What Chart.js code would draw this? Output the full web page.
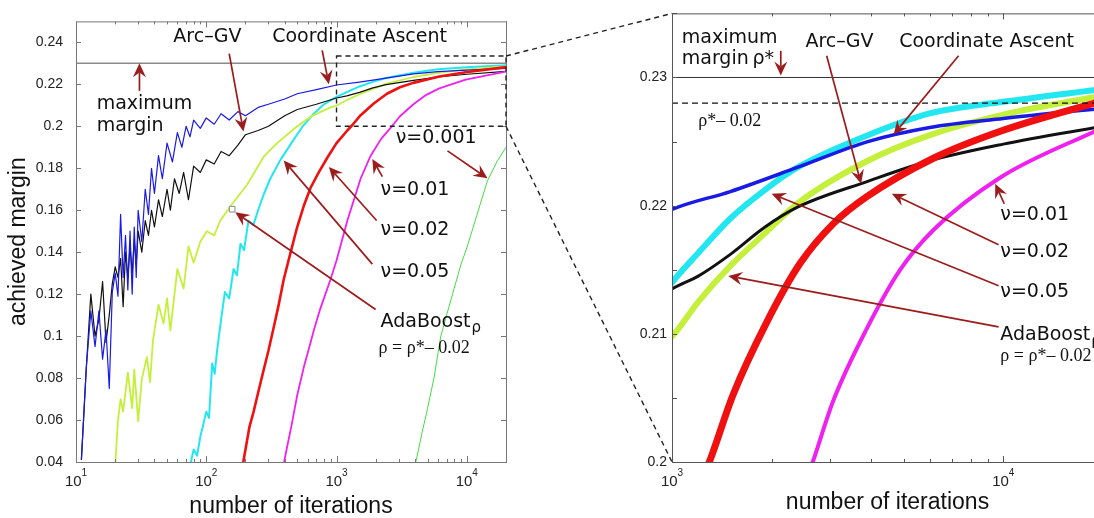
<!DOCTYPE html>
<html lang="en">
<head>
<meta charset="UTF-8">
<title>Achieved margin vs. number of iterations</title>
<script src="https://cdn.jsdelivr.net/npm/chart.js"></script>
<style>
  html, body { margin: 0; padding: 0; background: #fff; overflow: hidden; }
  #wrap { position: relative; width: 1094px; height: 518px; overflow: hidden; }
  #leftChart { position: absolute; left: 0; top: 0; }
  #rightChart { position: absolute; left: 600px; top: 0; }
  #overlay { position: absolute; left: 0; top: 0; pointer-events: none; }
</style>
</head>
<body>
<div id="wrap">
  <canvas id="leftChart" width="530" height="518"></canvas>
  <canvas id="rightChart" width="520" height="518"></canvas>
  <canvas id="overlay" width="1094" height="518"></canvas>
</div>
<script>
// ---- data (iterations / achieved margin) ----
const caIter = [11,12,13,14,15,16,17,18,19,20,21,22,23,24,25,26,27,28,29,30,32,34,36,38,40,43,46,50,55,60,65,70,75,80,90,100,115,130,150,175,200,250,300,400,500,700,1000,1500,2400,3900,6000,10000,20000];
const caMargin = [0.041,0.085,0.112,0.095,0.112,0.089,0.103,0.075,0.121,0.130,0.119,0.158,0.128,0.148,0.122,0.150,0.120,0.152,0.128,0.160,0.145,0.170,0.158,0.180,0.168,0.186,0.175,0.192,0.183,0.197,0.190,0.200,0.195,0.203,0.199,0.204,0.201,0.206,0.203,0.207,0.205,0.209,0.2105,0.213,0.2155,0.2175,0.2197,0.2211,0.2230,0.2250,0.2261,0.2268,0.2276];

const arcIter = [11,12,13,14,15,16,17,18,19,20,21,22,23,24,25,26,27,28,29,30,32,34,36,38,40,43,46,50,53,57,62,67,73,80,90,100,115,130,150,175,200,250,300,400,500,700,1000,1200,1500,1900,2400,3900,6000,10000,20000];
const arcMargin = [0.041,0.085,0.120,0.100,0.108,0.126,0.097,0.110,0.125,0.133,0.128,0.137,0.114,0.140,0.128,0.143,0.130,0.146,0.134,0.150,0.140,0.155,0.148,0.160,0.152,0.165,0.157,0.170,0.160,0.175,0.168,0.178,0.165,0.181,0.178,0.184,0.182,0.188,0.186,0.191,0.196,0.198,0.200,0.205,0.208,0.2105,0.2135,0.2145,0.2162,0.2183,0.2199,0.2219,0.2235,0.2248,0.2262];

const nu05Iter = [75,80,85,90,95,100,105,111,116,121,130,139,150,162,172,183,195,211,230,250,276,310,371,450,550,668,800,1000,1200,1500,1900,2400,3900,6000,10000,20000];
const nu05Margin = [0.038,0.046,0.043,0.052,0.058,0.064,0.061,0.087,0.082,0.093,0.108,0.121,0.118,0.132,0.129,0.144,0.141,0.155,0.153,0.160,0.1675,0.175,0.184,0.192,0.200,0.206,0.2105,0.2140,0.2163,0.2190,0.2212,0.2230,0.2255,0.2272,0.2281,0.2291];

const adaIter = [20,21,22,23,25,27,28,30,32,35,37,39,43,47,50,53,60,67,73,80,90,101,115,128,158,205,276,350,499,650,899,1000,1200,1500,1900,2400,3900,6000,10000,20000];
const adaMargin = [0.038,0.060,0.070,0.064,0.0826,0.0656,0.084,0.0594,0.0795,0.090,0.078,0.098,0.115,0.106,0.118,0.1026,0.132,0.1227,0.1428,0.135,0.145,0.150,0.148,0.155,0.163,0.172,0.1855,0.192,0.200,0.205,0.209,0.2098,0.2125,0.2153,0.2178,0.2202,0.2235,0.2255,0.2271,0.2286];

const nu02Iter = [190,200,215,231,250,276,300,329,360,393,443,499,560,631,730,849,1000,1210,1318,1532,1931,2437,3070,3873,6152,9800,20000];
const nu02Margin = [0.038,0.046,0.057,0.064,0.073,0.084,0.093,0.104,0.115,0.127,0.1397,0.152,0.162,0.1706,0.178,0.185,0.192,0.198,0.2005,0.2053,0.2109,0.2155,0.2186,0.2207,0.2237,0.2258,0.2282];

const nu01Iter = [390,420,450,499,560,620,668,750,899,1000,1210,1530,1828,2200,2660,3070,3873,4886,6152,9800,20000];
const nu01Margin = [0.038,0.048,0.057,0.0718,0.085,0.095,0.1026,0.113,0.127,0.136,0.155,0.175,0.186,0.194,0.2000,0.2048,0.2104,0.2150,0.2181,0.2222,0.2261];

const nu001Iter = [4000,4500,5000,5600,6300,7000,8000,9000,10000,12000,14400,17000,20000];
const nu001Margin = [0.038,0.053,0.0656,0.080,0.0996,0.110,0.1227,0.134,0.142,0.158,0.174,0.183,0.190];

const maxIter = [10, 20000];
const maxMargin = [0.23, 0.23];
const targetIter = [1000, 20000];
const targetMargin = [0.228, 0.228];
const markIter = [158];
const markMargin = [0.1605];

// zoomed region shown in the right panel
const zoomIter = [1000, 20000];
const zoomMargin = [0.2, 0.2335];

// axes
const leftYTicks = [0.04,0.06,0.08,0.1,0.12,0.14,0.16,0.18,0.2,0.22,0.24];
const leftYLabels = ['0.04','0.06','0.08','0.1','0.12','0.14','0.16','0.18','0.2','0.22','0.24'];
const rightYTicks = [0.2,0.205,0.21,0.215,0.22,0.225,0.23,0.235];
const rightYLabels = ['0.2','','0.21','','0.22','','0.23',''];
const xMajor = [10, 100, 1000, 10000];
const xExp = ['1', '2', '3', '4'];

const ANN = '#9b1c1c';
const NOTE = '19px "DejaVu Sans"';
const SUB = '15px "DejaVu Sans"';
const SERIF = '18px "Liberation Serif"';

function pts(xs, ys) { return xs.map((x, i) => ({ x: x, y: ys[i] })); }

function drawArrow(ctx, x1, y1, x2, y2) {
  const len = 14, half = 6.5;
  const a = Math.atan2(y2 - y1, x2 - x1);
  const c = Math.cos(a), s = Math.sin(a);
  const nx = x2 - 0.65 * len * c, ny = y2 - 0.65 * len * s;
  ctx.beginPath(); ctx.moveTo(x1, y1); ctx.lineTo(nx, ny); ctx.stroke();
  ctx.beginPath();
  ctx.moveTo(x2, y2);
  ctx.lineTo(x2 - len * c - half * s, y2 - len * s + half * c);
  ctx.lineTo(nx, ny);
  ctx.lineTo(x2 - len * c + half * s, y2 - len * s - half * c);
  ctx.closePath(); ctx.fill();
}

// matlab style box with inward ticks, superscript x labels, zoom box
const framePlugin = {
  id: 'frame',
  afterDatasetsDraw(chart, args, o) {
    const { ctx, chartArea: a, scales: { x, y } } = chart;
    ctx.save();
    ctx.strokeStyle = o.color; ctx.lineWidth = 1;
    ctx.strokeRect(a.left + 0.5, a.top + 0.5, a.width, a.height);
    ctx.beginPath();
    y.ticks.forEach(t => {
      const py = Math.round(y.getPixelForValue(t.value)) + 0.5;
      ctx.moveTo(a.left, py); ctx.lineTo(a.left + 5, py);
      ctx.moveTo(a.right, py); ctx.lineTo(a.right - 5, py);
    });
    for (let d = 10; d <= 10000; d *= 10) {
      for (let m = 1; m <= 9; m++) {
        const v = m * d;
        if (v < x.min || v > x.max) continue;
        const len = m === 1 ? 6 : 3;
        const px = Math.round(x.getPixelForValue(v)) + 0.5;
        ctx.moveTo(px, a.bottom); ctx.lineTo(px, a.bottom - len);
        ctx.moveTo(px, a.top); ctx.lineTo(px, a.top + len);
      }
    }
    ctx.stroke();
    // x tick labels 10^k
    ctx.fillStyle = '#222'; ctx.textBaseline = 'alphabetic'; ctx.textAlign = 'left';
    xMajor.forEach((v, i) => {
      if (v < x.min || v > x.max) return;
      const px = x.getPixelForValue(v);
      ctx.font = '15px "Liberation Sans"';
      const w1 = ctx.measureText('10').width;
      ctx.font = '10px "Liberation Sans"';
      const w2 = ctx.measureText(xExp[i]).width;
      const x0 = px - (w1 + w2) / 2;
      ctx.font = '15px "Liberation Sans"';
      ctx.fillText('10', x0, 486);
      ctx.font = '10px "Liberation Sans"';
      ctx.fillText(xExp[i], x0 + w1, 476);
    });
    if (o.zoom) {
      ctx.strokeStyle = '#222'; ctx.lineWidth = 1.4; ctx.setLineDash([5, 4]);
      const l = x.getPixelForValue(zoomIter[0]), r = x.getPixelForValue(zoomIter[1]);
      const b = y.getPixelForValue(zoomMargin[0]), t = y.getPixelForValue(zoomMargin[1]);
      ctx.strokeRect(l, t, r - l, b - t);
    }
    ctx.restore();
  }
};

const notesPlugin = {
  id: 'notes',
  afterDraw(chart, args, o) {
    const { ctx, scales: { x, y } } = chart;
    ctx.save();
    ctx.strokeStyle = ANN; ctx.fillStyle = ANN; ctx.lineWidth = 1.7;
    o.items.filter(n => n.arrow).forEach(n => {
      const [ax, ay, bx, by] = n.arrow;
      drawArrow(ctx, x.getPixelForValue(ax), y.getPixelForValue(ay), x.getPixelForValue(bx), y.getPixelForValue(by));
    });
    ctx.fillStyle = '#111'; ctx.textBaseline = 'middle';
    o.items.filter(n => n.text).forEach(n => {
      ctx.font = n.serif ? SERIF : NOTE;
      ctx.textAlign = n.align || 'left';
      const px = x.getPixelForValue(n.x), py = y.getPixelForValue(n.y);
      ctx.fillText(n.text, px, py);
      if (n.sub) {
        const w = ctx.measureText(n.text).width;
        ctx.font = SUB; ctx.textAlign = 'left';
        ctx.fillText(n.sub, px + w + 1, py + 6);
      }
    });
    ctx.restore();
  }
};

const leftNotes = [
  { text: 'Arc\u2013GV', x: 102, y: 0.2423, align: 'center' },
  { arrow: [150, 0.2346, 193, 0.1975] },
  { text: 'Coordinate Ascent', x: 1503, y: 0.2423, align: 'center' },
  { arrow: [776, 0.2362, 873, 0.2200] },
  { text: 'maximum', x: 14.4, y: 0.2108 },
  { text: 'margin', x: 14.4, y: 0.1999 },
  { arrow: [30.7, 0.2169, 30.7, 0.2300] },
  { text: '\u03bd=0.001', x: 2844, y: 0.1945 },
  { arrow: [7110, 0.1883, 14420, 0.1752] },
  { text: '\u03bd=0.01', x: 2178, y: 0.1698 },
  { arrow: [2248, 0.176, 1883, 0.1844] },
  { text: '\u03bd=0.02', x: 2178, y: 0.1505 },
  { arrow: [2031, 0.1551, 873, 0.1806] },
  { text: '\u03bd=0.05', x: 2178, y: 0.1304 },
  { arrow: [1883, 0.1343, 393, 0.1837] },
  { text: 'AdaBoost', sub: '\u03c1', x: 2178, y: 0.1065 },
  { arrow: [1996, 0.1127, 167, 0.159] },
  { text: '\u03c1 = \u03c1*\u2013 0.02', serif: true, x: 2104, y: 0.0942 }
];

const rightNotes = [
  { text: 'maximum', x: 1070, y: 0.2331 },
  { text: 'margin\u2009\u03c1*', x: 1070, y: 0.23144 },
  { arrow: [2130, 0.23208, 2130, 0.23015] },
  { text: 'Arc\u2013GV', x: 3202, y: 0.23277, align: 'center' },
  { arrow: [2930, 0.2317, 3724, 0.2217] },
  { text: 'Coordinate Ascent', x: 8905, y: 0.23277, align: 'center' },
  { arrow: [7330, 0.2317, 4664, 0.22554] },
  { text: '\u03c1*\u2013 0.02', serif: true, x: 1201, y: 0.22656 },
  { text: '\u03bd=0.01', x: 9794, y: 0.21925 },
  { arrow: [10070, 0.22015, 9458, 0.2217] },
  { text: '\u03bd=0.02', x: 9794, y: 0.21636 },
  { arrow: [9679, 0.21695, 4611, 0.22092] },
  { text: '\u03bd=0.05', x: 9794, y: 0.21328 },
  { arrow: [9679, 0.21375, 2000, 0.22092] },
  { text: 'AdaBoost', sub: '\u03c1', x: 9794, y: 0.2099 },
  { arrow: [9679, 0.21054, 1479, 0.21452] },
  { text: '\u03c1 = \u03c1*\u2013 0.02', serif: true, x: 9794, y: 0.20823 }
];

function curve(label, xs, ys, color, width, order, smooth) {
  const d = { label: label, data: pts(xs, ys), borderColor: color, borderWidth: width, order: order,
              pointRadius: 0, fill: false, clip: 0, tension: 0, borderJoinStyle: 'round' };
  if (smooth) d.cubicInterpolationMode = 'monotone';
  return d;
}

function makeChart(id, p) {
  const w = p.widths;
  const sets = [
    curve('\u03bd=0.001', nu001Iter, nu001Margin, '#44dd44', w[6], 7, p.smooth),
    curve('\u03bd=0.05', nu05Iter, nu05Margin, '#22e6f0', w[3], 6, p.smooth),
    curve('AdaBoost', adaIter, adaMargin, '#c4f03c', w[2], 5, p.smooth),
    curve('Arc-GV', arcIter, arcMargin, '#111111', w[1], 4, p.smooth),
    curve('Coordinate Ascent', caIter, caMargin, '#1a1ae6', w[0], 3, p.smooth),
    curve('\u03bd=0.02', nu02Iter, nu02Margin, '#f01010', w[4], 2, p.smooth),
    curve('\u03bd=0.01', nu01Iter, nu01Margin, '#f020f0', w[5], 1, p.smooth),
    curve('maximum margin', maxIter, maxMargin, p.maxColor, p.maxWidth, 0, false)
  ].concat(p.extra);
  return new Chart(document.getElementById(id), {
    type: 'line',
    data: { datasets: sets },
    plugins: [framePlugin, notesPlugin],
    options: {
      responsive: false, animation: false, events: [],
      layout: { padding: { top: 9, right: p.padRight, left: 0, bottom: 0 } },
      plugins: {
        legend: { display: false }, tooltip: { enabled: false },
        frame: { color: p.frameColor, zoom: p.zoom },
        notes: { items: p.notes }
      },
      scales: {
        x: {
          type: 'logarithmic', min: p.xMin, max: p.xMax,
          grid: { display: false, drawTicks: false }, border: { display: false },
          ticks: { display: false },
          afterBuildTicks: s => { s.ticks = xMajor.filter(v => v >= p.xMin && v <= p.xMax).map(v => ({ value: v })); },
          afterFit: s => { s.height = 56; },
          title: { display: true, text: 'number of iterations', color: '#111',
                   font: { family: 'Liberation Sans', size: 23, lineHeight: 1 },
                   padding: { top: 0, bottom: p.xTitlePad } }
        },
        y: {
          type: 'linear', min: p.yMin, max: p.yMax,
          grid: { display: false, drawTicks: false }, border: { display: false },
          afterBuildTicks: s => { s.ticks = p.yTicks.map(v => ({ value: v })); },
          afterFit: s => { s.width = p.yWidth; },
          ticks: { autoSkip: false, padding: p.yPad, color: '#222',
                   font: { family: 'Liberation Sans', size: 14 },
                   callback: (v, i) => p.yLabels[i] },
          title: { display: p.yTitle, text: 'achieved margin', color: '#111',
                   font: { family: 'Liberation Sans', size: 23, lineHeight: 1.2 },
                   padding: { top: 5, bottom: 0 } }
        }
      }
    }
  });
}

const leftChart = makeChart('leftChart', {
  xMin: 10, xMax: 20000, yMin: 0.04, yMax: 0.25,
  yTicks: leftYTicks, yLabels: leftYLabels, yWidth: 76, yPad: 13, yTitle: true,
  padRight: 24, xTitlePad: 0, frameColor: '#777', zoom: true, smooth: false,
  widths: [1.2, 1.2, 1.8, 2, 2.6, 1.8, 1],
  maxColor: '#8a8a8a', maxWidth: 1.5,
  notes: leftNotes,
  extra: [{ label: 'mark', data: pts(markIter, markMargin), showLine: false, order: -1,
            pointStyle: 'rect', pointRadius: 4, backgroundColor: '#fff', borderColor: '#888', borderWidth: 1 }]
});

const rightChart = makeChart('rightChart', {
  xMin: 1000, xMax: 20000, yMin: 0.2, yMax: 0.235,
  yTicks: rightYTicks, yLabels: rightYLabels, yWidth: 72, yPad: 5, yTitle: false,
  padRight: 17, xTitlePad: 4, frameColor: '#555', zoom: false, smooth: true,
  widths: [3.5, 3, 6, 6, 7, 4, 1],
  maxColor: '#333', maxWidth: 1,
  notes: rightNotes,
  extra: [{ label: '\u03c1*-0.02', data: pts(targetIter, targetMargin), borderColor: '#111', borderWidth: 1.3,
            borderDash: [6, 4], pointRadius: 0, order: 0, clip: 0 }]
});

// dashed connectors from the zoom box to the right panel
(function () {
  const ctx = document.getElementById('overlay').getContext('2d');
  const lc = document.getElementById('leftChart'), rc = document.getElementById('rightChart');
  const lx = lc.offsetLeft + leftChart.scales.x.getPixelForValue(zoomIter[1]);
  const lTop = lc.offsetTop + leftChart.scales.y.getPixelForValue(zoomMargin[1]);
  const lBot = lc.offsetTop + leftChart.scales.y.getPixelForValue(zoomMargin[0]);
  const ra = rightChart.chartArea;
  ctx.strokeStyle = '#222'; ctx.lineWidth = 1.4; ctx.setLineDash([5, 4]);
  ctx.beginPath();
  ctx.moveTo(lx, lTop); ctx.lineTo(rc.offsetLeft + ra.left, rc.offsetTop + ra.top);
  ctx.moveTo(lx, lBot); ctx.lineTo(rc.offsetLeft + ra.left, rc.offsetTop + ra.bottom);
  ctx.stroke();
})();
</script>
</body>
</html>
